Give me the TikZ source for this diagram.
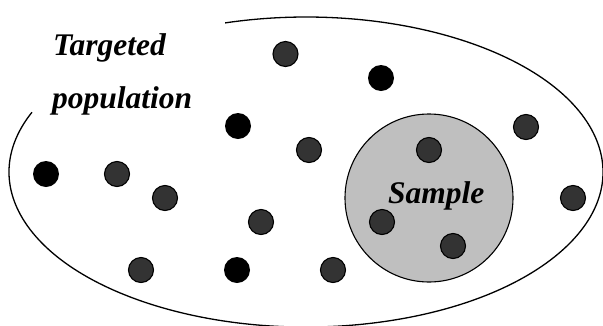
\documentclass[tikz,border=0pt]{standalone}
\usepackage{fontspec}
\setmainfont{Liberation Serif}
\begin{document}
\begin{tikzpicture}[x=1pt,y=-1pt,
  graydot/.style={circle,draw=black,line width=1.1pt,fill=black!80,minimum size=25pt,inner sep=0pt},
  blackdot/.style={circle,fill=black,minimum size=26pt,inner sep=0pt},
  lbl/.style={font=\fontsize{31.5}{38}\selectfont\bfseries\itshape,inner sep=0pt,anchor=base west}]
\useasboundingbox (0,0) rectangle (603,325);
% population boundary (open near the label)
\draw[line width=1.3pt] (225.1,22.9) arc[start angle=-105.8,end angle=202.7,x radius=297,y radius=155];
% sample
\node[circle,draw=black,line width=1.1pt,fill=black!25,minimum size=168pt,inner sep=0pt] (sample) at (429,198) {};
% dots
\node[graydot] (d1) at (285.5,54) {};
\node[blackdot] (d2) at (381,78) {};
\node[blackdot] (d3) at (238,126) {};
\node[graydot] (d4) at (309,150) {};
\node[graydot] (d5) at (429,150) {};
\node[graydot] (d6) at (526,127) {};
\node[blackdot] (d7) at (46,174) {};
\node[graydot] (d8) at (117,174) {};
\node[graydot] (d9) at (165,198) {};
\node[graydot] (d10) at (261,222) {};
\node[graydot] (d11) at (573,198) {};
\node[graydot] (d12) at (382,222) {};
\node[graydot] (d13) at (453,246) {};
\node[graydot] (d14) at (141,270) {};
\node[blackdot] (d15) at (237,270) {};
\node[graydot] (d16) at (333,270) {};
% labels
\node[lbl] (t1) at (53,55) {Targeted};
\node[lbl] (t2) at (52,108) {population};
\node[lbl] (t3) at (388,203) {Sample};
\end{tikzpicture}
\end{document}
